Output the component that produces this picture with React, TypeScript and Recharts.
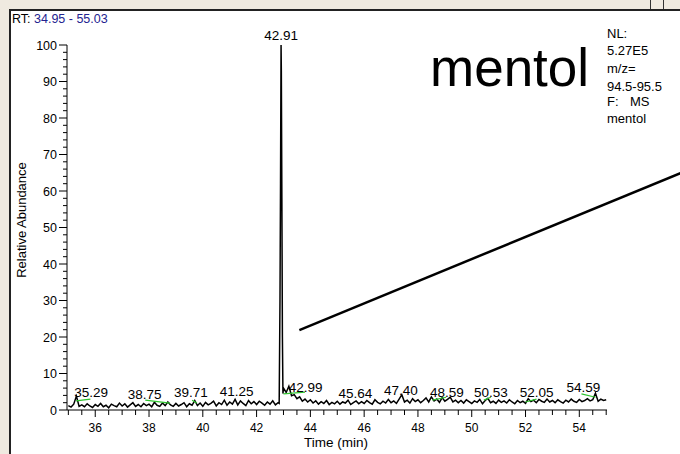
import { ComposedChart, Line, XAxis, YAxis, ReferenceLine, ReferenceDot } from 'recharts';

// scan interval of the trace (min)
const scanStep = 0.1;

// baseline before the main peak, 35.0 .. 42.8 min (% abundance)
const preStart = 35.0;
const preValues = [
  1.2, 0.8, 1.6, 3.8, 1.0, 1.4, 0.9, 1.7, 1.1, 0.7,
  1.5, 1.0, 1.8, 0.9, 1.3, 0.6, 1.6, 1.2, 0.9, 1.9,
  1.1, 1.7, 0.8, 1.4, 2.0, 1.0, 1.5, 0.9, 1.8, 1.2,
  1.6, 0.9, 2.1, 1.3, 1.0, 1.9, 1.2, 2.2, 1.4, 1.0,
  1.8, 1.1, 1.5, 2.0, 0.9, 1.7, 1.3, 2.6, 1.2, 1.9,
  1.0, 2.1, 1.4, 1.8, 2.4, 1.1, 2.0, 1.5, 2.7, 1.3,
  2.2, 1.6, 2.9, 1.4, 2.5, 1.8, 1.2, 2.6, 1.7, 2.3,
  1.5, 2.4, 1.9, 1.3, 2.2, 1.6, 2.5, 1.4, 2.0,
];

// the mentol peak itself
const peakTimes = [42.84, 42.87, 42.89, 42.91, 42.92, 42.94, 42.96, 42.98, 43.0];
const peakValues = [1.8, 30, 62, 100, 93, 58, 20, 4.5, 6.0];

// baseline after the peak, 43.1 .. 55.0 min
const postStart = 43.1;
const postValues = [
  4.8, 6.5, 3.9, 4.2, 3.1, 3.6, 2.4, 3.0, 2.2,
  2.8, 1.9, 2.5, 1.6, 2.3, 1.8, 2.6, 1.5, 2.1, 1.7,
  2.4, 1.6, 2.2, 1.9, 2.7, 1.5, 2.0, 2.5, 1.7, 2.3,
  1.8, 2.6, 2.0, 1.6, 2.8, 2.1, 1.7, 2.4, 1.9, 2.9,
  2.0, 2.5, 1.8, 3.0, 4.2, 2.2, 2.7, 1.9, 3.1, 2.3,
  2.8, 2.0, 2.6, 3.3, 2.2, 3.6, 2.5, 3.0, 2.1, 3.4,
  2.4, 2.9, 3.5, 2.2, 2.7, 2.0, 2.6, 1.9, 2.8, 2.3,
  1.8, 2.5, 2.1, 2.9, 1.7, 2.6, 3.2, 2.0, 2.4, 1.8,
  2.7, 2.1, 2.5, 1.9, 2.8, 2.2, 1.7, 2.6, 2.0, 2.4,
  1.8, 3.1, 2.3, 2.7, 2.0, 2.9, 2.4, 2.1, 3.0, 2.2,
  2.6, 2.0, 2.8, 2.3, 1.9, 2.7, 2.2, 3.0, 2.4, 2.1,
  2.9, 2.3, 2.6, 3.1, 2.5, 2.8, 4.6, 2.4, 3.0, 2.6,
  2.8,
];

// peak annotations: retention time text, where the label sits (time, level)
const peakLabels = ['35.29', '38.75', '39.71', '41.25', '42.99', '45.64', '47.40', '48.59', '50.53', '52.05', '54.59'];
const labelAt = [35.85, 37.84, 39.56, 41.26, 43.82, 45.67, 47.37, 49.08, 50.71, 52.41, 54.15];
const labelLevel = [4.9, 4.4, 4.9, 5.2, 6.3, 4.7, 5.5, 4.9, 4.9, 4.9, 6.3];

// green leader marks [t1, y1, t2, y2]
const leaders = [
  [35.29, 2.5, 35.82, 3.0],
  [37.86, 2.7, 38.78, 1.9],
  [39.6, 2.7, 39.78, 1.9],
  [43.0, 4.4, 43.8, 4.9],
  [48.54, 2.7, 49.05, 3.5],
  [50.45, 2.7, 50.71, 3.5],
  [52.0, 2.2, 52.41, 3.0],
  [54.08, 4.4, 54.6, 3.5],
];

const topLabel = { t: 42.91, level: 102.7, text: '42.91' };

const xMajor = [36, 38, 40, 42, 44, 46, 48, 50, 52, 54];
const yMajor = [0, 10, 20, 30, 40, 50, 60, 70, 80, 90, 100];

const xTicks: number[] = [];
for (let t = 35; t <= 55.001; t += 0.5) xTicks.push(Math.round(t * 10) / 10);
const yTicks: number[] = [];
for (let v = 0; v <= 100; v += 2) yTicks.push(v);

const trace = [
  ...preValues.map((v, i) => ({ t: Math.round((preStart + i * scanStep) * 100) / 100, v })),
  ...peakTimes.map((t, i) => ({ t, v: peakValues[i] })),
  ...postValues.map((v, i) => ({ t: Math.round((postStart + i * scanStep) * 100) / 100, v })),
];

const font = '"Liberation Sans", Arial, sans-serif';

const XTick = (props: any) => {
  const { x, y, payload } = props;
  const major = xMajor.includes(payload.value);
  return (
    <g>
      <line x1={x} x2={x} y1={y} y2={y + (major ? 7 : 5)} stroke="#000" />
      {major && (
        <text x={x} y={y + 22} textAnchor="middle" fontSize={12} fontFamily={font} fill="#000">
          {payload.value}
        </text>
      )}
    </g>
  );
};

const YTick = (props: any) => {
  const { x, y, payload } = props;
  const major = yMajor.includes(payload.value);
  return (
    <g>
      <line x1={x - (major ? 8 : 4)} x2={x} y1={y} y2={y} stroke="#000" />
      {major && (
        <text x={x - 10} y={y + 4.5} textAnchor="end" fontSize={12.5} fontFamily={font} fill="#000">
          {payload.value}
        </text>
      )}
    </g>
  );
};

const labelShape = (text: string) => (p: any) => (
  <text x={p.cx} y={p.cy + 5} textAnchor="middle" fontSize={13.5} fontFamily={font} fill="#000">
    {text}
  </text>
);

export default function App() {
  return (
    <div style={{ position: 'absolute', left: 0, top: 0, width: 680, height: 454, background: '#EFEAE0', overflow: 'hidden' }}>
      <div style={{ position: 'absolute', left: 9, top: 9, right: 0, bottom: 0, background: '#fff', borderTop: '2px solid #222', borderLeft: '2px solid #222' }} />
      <div style={{ position: 'absolute', left: 650, top: 0, width: 1, height: 9, background: '#333' }} />
      <div style={{ position: 'absolute', left: 663, top: 0, width: 1, height: 9, background: '#333' }} />
      <div style={{ position: 'absolute', left: 0, top: 0 }}>
        <ComposedChart width={680} height={454} data={trace} margin={{ top: 45, right: 73, bottom: 14, left: 17 }}>
          <XAxis
            dataKey="t"
            type="number"
            domain={[34.95, 55.03]}
            ticks={xTicks}
            interval={0}
            height={30}
            tickLine={false}
            tickSize={0}
            tickMargin={0}
            axisLine={{ stroke: '#000' }}
            tick={<XTick />}
          />
          <YAxis
            type="number"
            domain={[0, 100]}
            ticks={yTicks}
            interval={0}
            width={50}
            tickLine={false}
            tickSize={0}
            tickMargin={0}
            axisLine={{ stroke: '#000' }}
            tick={<YTick />}
          />
          <Line dataKey="v" type="linear" stroke="#000" strokeWidth={1.5} dot={false} isAnimationActive={false} />
          {leaders.map((s, i) => (
            <ReferenceLine
              key={`ld-${i}`}
              segment={[{ x: s[0], y: s[1] }, { x: s[2], y: s[3] }]}
              stroke="#2fc42f"
              strokeWidth={1.2}
              ifOverflow="visible"
            />
          ))}
          {peakLabels.map((txt, i) => (
            <ReferenceDot key={`pl-${i}`} x={labelAt[i]} y={labelLevel[i]} r={0} ifOverflow="visible" shape={labelShape(txt)} />
          ))}
          <ReferenceDot x={topLabel.t} y={topLabel.level} r={0} ifOverflow="visible" shape={labelShape(topLabel.text)} />
          <ReferenceLine
            segment={[{ x: 43.59, y: 21.9 }, { x: 57.76, y: 64.9 }]}
            stroke="#000"
            strokeWidth={2.5}
            ifOverflow="visible"
          />
        </ComposedChart>
      </div>
      <svg width={680} height={454} style={{ position: 'absolute', left: 0, top: 0, pointerEvents: 'none' }} fontFamily={font}>
        <text x={12} y={23} fontSize={12.5} fill="#000">
          RT: <tspan fill="#23238f">34.95 - 55.03</tspan>
        </text>
        <text x={430} y={86} fontSize={53} fill="#000">mentol</text>
        <g fontSize={13} fill="#000">
          <text x={607} y={38}>NL:</text>
          <text x={607} y={55}>5.27E5</text>
          <text x={607} y={73}>m/z=</text>
          <text x={607} y={91}>94.5-95.5</text>
          <text x={607} y={106}>F:</text>
          <text x={630} y={106}>MS</text>
          <text x={607} y={123}>mentol</text>
        </g>
        <text x={336} y={447} fontSize={13.5} textAnchor="middle" fill="#000">Time (min)</text>
        <text x={0} y={0} fontSize={13} textAnchor="middle" fill="#000" transform="translate(26 220) rotate(-90)">
          Relative Abundance
        </text>
      </svg>
    </div>
  );
}
